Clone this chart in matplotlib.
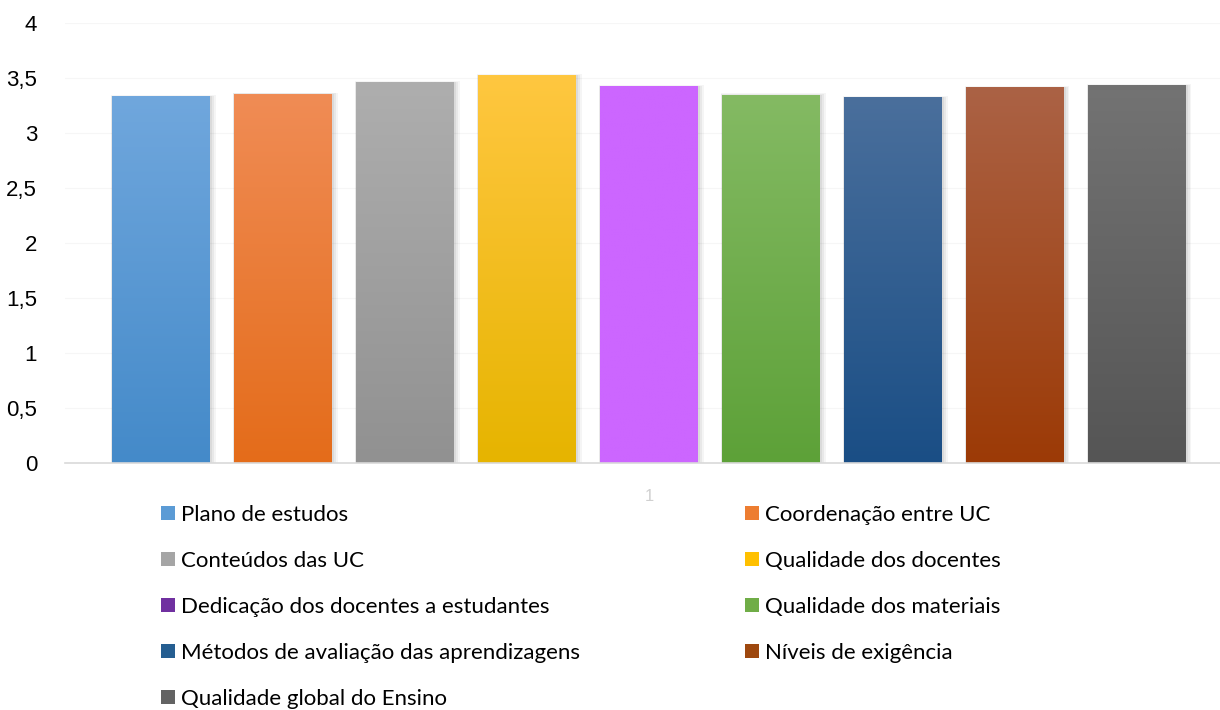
import matplotlib as mpl

mpl.use("agg")

import matplotlib.pyplot as plt
import numpy as np
from matplotlib.colors import LinearSegmentedColormap
from matplotlib.patches import Patch, Rectangle

categories = [
    "Plano de estudos",
    "Coordenação entre UC",
    "Conteúdos das UC",
    "Qualidade dos docentes",
    "Dedicação dos docentes a estudantes",
    "Qualidade dos materiais",
    "Métodos de avaliação das aprendizagens",
    "Níveis de exigência",
    "Qualidade global do Ensino",
]
values = [3.33, 3.35, 3.455, 3.52, 3.42, 3.345, 3.32, 3.41, 3.43]
x_tick_labels = ["1"]
y_tick_labels = ["0", "0,5", "1", "1,5", "2", "2,5", "3", "3,5", "4"]

# gradient (top, bottom) per bar, and legend swatch colour
bar_top = ["#70A7DD", "#F08C55", "#AEAEAE", "#FFC740", "#CC66FF",
           "#84BA63", "#4A6F9C", "#AB6245", "#737373"]
bar_bottom = ["#448AC9", "#E46C1A", "#919191", "#E6B400", "#CC66FF",
              "#5DA138", "#1A4E85", "#9C3A06", "#555555"]
legend_colors = ["#5B9BD5", "#ED7D31", "#A5A5A5", "#FFC000", "#7030A0",
                 "#70AD47", "#255E91", "#9E480E", "#636363"]

W, H = 1220, 710
fig = plt.figure(figsize=(W / 100, H / 100), dpi=100)
ax = fig.add_axes([65 / W, (H - 463) / H, (1233 - 65) / W, (463 - 23) / H])

xs = np.arange(len(values))
bars = ax.bar(xs, values, width=0.8, color="none", zorder=3)

grad = np.linspace(0, 1, 256).reshape(-1, 1)
for i, rect in enumerate(bars):
    x0, w, h = rect.get_x(), rect.get_width(), rect.get_height()
    # soft shadow
    for k, a in enumerate([0.06, 0.05, 0.04]):
        d = 0.012 * (k + 1)
        ax.add_patch(Rectangle((x0 - d * 0.3, 0), w + d * 1.6, h + d * 0.4,
                               color="black", alpha=a, lw=0, zorder=2))
    cmap = LinearSegmentedColormap.from_list("g%d" % i, [bar_bottom[i], bar_top[i]])
    ax.imshow(grad, cmap=cmap, extent=[x0, x0 + w, 0, h], origin="lower",
              aspect="auto", zorder=3, interpolation="bilinear")

ax.set_xlim(-0.787, 8.787)
ax.set_ylim(0, 4)
ax.set_yticks(np.arange(0, 4.01, 0.5))
ax.set_yticklabels(y_tick_labels, fontsize=16, family="Liberation Sans")
ax.set_xticks([4])
ax.set_xticklabels(x_tick_labels, fontsize=12, color="#D0D0D0", family="Liberation Sans")
ax.tick_params(axis="y", length=0, pad=20)
ax.tick_params(axis="x", length=0, pad=19)
ax.grid(axis="y", color="#F6F6F6", lw=0.8, zorder=0)
for s in ["top", "right", "left"]:
    ax.spines[s].set_visible(False)
ax.spines["bottom"].set_color("#D9D9D9")
ax.spines["bottom"].set_linewidth(1.2)
ax.spines["bottom"].set_zorder(4)

handles = [Patch(facecolor=c, edgecolor="none") for c in legend_colors]
leg_kw = dict(frameon=False, prop={"family": "Lato", "size": 16},
              handlelength=0.63, handleheight=0.63, handletextpad=0.28,
              labelspacing=1.17, borderpad=0, borderaxespad=0, loc="upper left")
leg1 = fig.legend([handles[i] for i in range(0, 9, 2)],
                  [categories[i] for i in range(0, 9, 2)],
                  bbox_to_anchor=(161 / W, (H - 505) / H), **leg_kw)
leg2 = fig.legend([handles[i] for i in range(1, 9, 2)],
                  [categories[i] for i in range(1, 9, 2)],
                  bbox_to_anchor=(745 / W, (H - 505) / H), **leg_kw)

fig.savefig("out.png", dpi=100)
